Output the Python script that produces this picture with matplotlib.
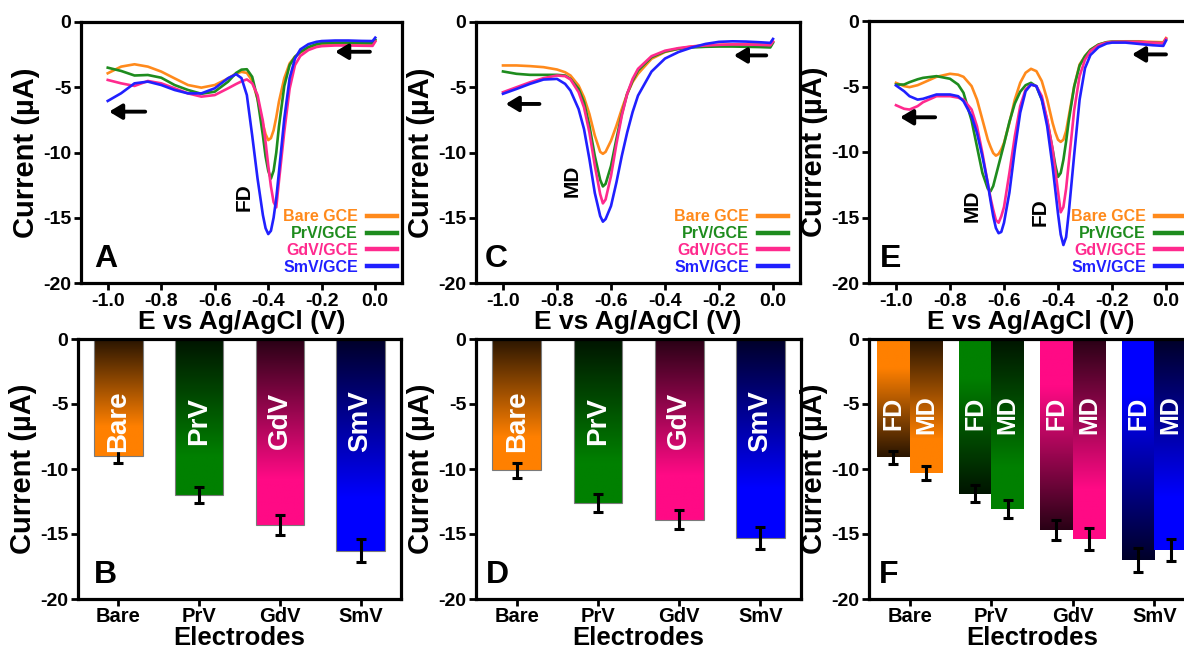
import numpy as np
import matplotlib
matplotlib.use("Agg")
import matplotlib.pyplot as plt
from matplotlib.colors import to_rgb

plt.rcParams["font.family"] = ["Liberation Sans", "DejaVu Sans"]
plt.rcParams["font.weight"] = "bold"
plt.rcParams["axes.labelweight"] = "bold"
plt.rcParams["axes.unicode_minus"] = False

# ---------------------------------------------------------------- data
series_labels = ["Bare GCE", "PrV/GCE", "GdV/GCE", "SmV/GCE"]
electrodes = ["Bare", "PrV", "GdV", "SmV"]
line_colors = ["#FF8A1C", "#1E8C1E", "#FF2A8E", "#2020FF"]
bar_colors = ["#FF8000", "#008000", "#FF0A85", "#0000FF"]

# DPV of FD alone (panel A)
E_A = [-1.0, -0.95, -0.90, -0.85, -0.80, -0.75, -0.70, -0.65, -0.60, -0.55,
       -0.52, -0.50, -0.48, -0.46, -0.44, -0.42, -0.41, -0.40, -0.39, -0.38,
       -0.37, -0.36, -0.34, -0.32, -0.30, -0.28, -0.25, -0.22, -0.20, -0.15,
       -0.10, -0.05, -0.01, 0.0]
I_A_bare = [-3.93, -3.42, -3.24, -3.42, -3.80, -4.32, -4.83, -5.03, -4.83, -4.32,
            -3.95, -3.82, -3.90, -4.50, -5.90, -7.80, -8.60, -9.05, -8.90, -8.30,
            -7.30, -6.10, -4.30, -3.17, -2.66, -2.35, -2.00, -1.82, -1.75, -1.70,
            -1.68, -1.70, -1.72, -1.45]
I_A_prv = [-3.50, -3.75, -4.10, -4.06, -4.27, -4.83, -5.21, -5.50, -5.34, -4.57,
           -3.90, -3.65, -3.62, -4.20, -5.90, -8.70, -10.30, -11.40, -12.00, -11.40,
           -10.00, -8.00, -4.90, -3.30, -2.66, -2.30, -1.92, -1.70, -1.62, -1.58,
           -1.58, -1.60, -1.62, -1.35]
I_A_gdv = [-4.44, -4.70, -4.90, -4.52, -4.70, -5.08, -5.47, -5.72, -5.60, -5.08,
           -4.75, -4.55, -4.40, -4.70, -5.60, -7.60, -9.20, -11.00, -12.60, -13.80,
           -14.20, -12.20, -8.40, -5.10, -3.30, -2.60, -2.15, -1.92, -1.85, -1.80,
           -1.80, -1.82, -1.83, -1.50]
I_A_smv = [-6.05, -5.46, -4.70, -4.57, -4.83, -5.21, -5.47, -5.47, -5.08, -4.30,
           -4.00, -4.30, -5.60, -8.70, -12.00, -14.80, -15.80, -16.25, -16.00, -15.00,
           -13.50, -11.50, -7.40, -4.30, -2.80, -2.10, -1.70, -1.52, -1.46, -1.42,
           -1.42, -1.45, -1.46, -1.20]

# DPV of MD alone (panel C)
E_C = [-1.0, -0.95, -0.90, -0.85, -0.80, -0.77, -0.75, -0.72, -0.70, -0.68,
       -0.66, -0.64, -0.63, -0.62, -0.60, -0.58, -0.56, -0.54, -0.52, -0.50,
       -0.45, -0.40, -0.35, -0.30, -0.25, -0.20, -0.15, -0.10, -0.05, -0.01, 0.0]
I_C_bare = [-3.33, -3.33, -3.38, -3.46, -3.64, -3.85, -4.10, -4.87, -5.77, -7.05,
            -8.70, -9.95, -10.10, -9.95, -9.10, -7.95, -6.67, -5.50, -4.60, -3.97,
            -2.82, -2.30, -2.05, -1.87, -1.80, -1.75, -1.72, -1.72, -1.72, -1.75, -1.50]
I_C_prv = [-3.79, -3.97, -4.05, -4.05, -4.05, -4.10, -4.36, -5.13, -6.15, -7.95,
           -10.26, -12.10, -12.60, -12.40, -11.03, -8.97, -7.05, -5.50, -4.50, -3.72,
           -2.70, -2.26, -2.05, -1.95, -1.90, -1.88, -1.88, -1.90, -1.92, -1.95, -1.60]
I_C_gdv = [-5.38, -5.00, -4.62, -4.30, -4.10, -4.15, -4.40, -5.38, -6.54, -8.46,
           -11.00, -13.20, -13.90, -13.60, -11.80, -9.36, -7.18, -5.50, -4.36, -3.59,
           -2.62, -2.20, -2.00, -1.87, -1.80, -1.75, -1.72, -1.72, -1.75, -1.78, -1.50]
I_C_smv = [-5.50, -5.13, -4.74, -4.41, -4.36, -4.74, -5.26, -6.67, -8.20, -10.50,
           -13.10, -14.87, -15.30, -15.10, -14.10, -12.30, -10.26, -8.46, -6.90, -5.64,
           -3.80, -2.80, -2.30, -1.95, -1.68, -1.52, -1.48, -1.50, -1.55, -1.60, -1.30]

# DPV of the FD + MD mixture (panel E)
E_E = [-1.0, -0.97, -0.95, -0.92, -0.90, -0.85, -0.80, -0.77, -0.75, -0.72,
       -0.70, -0.68, -0.66, -0.65, -0.64, -0.63, -0.62, -0.61, -0.60, -0.58,
       -0.56, -0.54, -0.52, -0.50, -0.48, -0.46, -0.44, -0.42, -0.41, -0.40,
       -0.39, -0.38, -0.37, -0.36, -0.34, -0.32, -0.30, -0.28, -0.25, -0.22,
       -0.20, -0.15, -0.10, -0.05, -0.01, 0.0]
I_E_bare = [-4.72, -4.97, -5.05, -4.90, -4.72, -4.26, -4.03, -4.10, -4.26, -4.97,
            -6.00, -7.53, -9.06, -9.60, -10.08, -10.28, -10.15, -9.80, -9.31, -7.78,
            -6.00, -4.72, -3.95, -3.65, -3.83, -4.59, -6.00, -7.78, -8.50, -9.06,
            -9.23, -9.06, -8.40, -7.27, -4.97, -3.32, -2.68, -2.20, -1.80, -1.62,
            -1.58, -1.55, -1.55, -1.60, -1.62, -1.30]
I_E_prv = [-4.85, -4.85, -4.67, -4.45, -4.34, -4.21, -4.41, -4.85, -5.48, -7.60,
           -9.60, -11.60, -12.80, -13.00, -12.60, -11.80, -11.00, -10.20, -9.40, -7.70,
           -6.30, -5.40, -4.90, -4.72, -5.00, -6.00, -7.60, -9.80, -11.00, -11.90,
           -11.60, -10.60, -9.20, -7.60, -5.00, -3.40, -2.68, -2.20, -1.80, -1.62,
           -1.58, -1.58, -1.60, -1.65, -1.70, -1.40]
I_E_gdv = [-6.43, -6.70, -6.76, -6.50, -6.20, -5.74, -5.74, -5.85, -6.00, -6.76,
           -8.04, -10.08, -12.40, -13.50, -14.40, -15.20, -15.40, -14.90, -14.20, -11.60,
           -8.80, -6.50, -5.23, -4.85, -4.97, -5.74, -7.53, -9.80, -11.40, -13.00,
           -14.60, -14.20, -12.80, -10.80, -6.80, -4.20, -2.95, -2.30, -1.85, -1.65,
           -1.60, -1.58, -1.60, -1.65, -1.70, -1.35]
I_E_smv = [-4.92, -5.36, -5.74, -6.00, -5.94, -5.61, -5.61, -5.74, -6.12, -7.27,
           -8.55, -10.33, -12.40, -13.70, -14.90, -15.80, -16.20, -16.10, -15.40, -13.10,
           -9.82, -7.00, -5.36, -4.85, -4.97, -6.00, -8.04, -11.10, -12.90, -14.70,
           -16.30, -17.10, -16.50, -14.60, -10.20, -6.00, -3.60, -2.60, -2.00, -1.72,
           -1.65, -1.65, -1.75, -1.85, -1.90, -1.50]

# peak currents (mean, error)
B_peak = [-9.0, -12.0, -14.3, -16.3]
B_err = [0.5, 0.62, 0.77, 0.88]
D_peak = [-10.1, -12.6, -13.9, -15.3]
D_err = [0.58, 0.7, 0.75, 0.82]
F_peak_fd = [-9.1, -11.9, -14.7, -17.0]
F_err_fd = [0.5, 0.65, 0.75, 0.9]
F_peak_md = [-10.3, -13.1, -15.4, -16.2]
F_err_md = [0.55, 0.7, 0.85, 0.85]

# ---------------------------------------------------------------- layout
W, H = 1184, 653
fig = plt.figure(figsize=(W / 100, H / 100), dpi=100)
fig.patch.set_facecolor("white")


def add_axes_px(l, r, t, b):
    return fig.add_axes([l / W, 1 - b / H, (r - l) / W, (b - t) / H])


def style(ax):
    for s in ax.spines.values():
        s.set_linewidth(2.3)
    ax.tick_params(direction="out", length=5, width=2, labelsize=14, pad=2,
                   top=False, right=False)
    ax.set_ylim(-20, 0)
    ax.set_yticks([0, -5, -10, -15, -20])
    ax.set_ylabel("Current (µA)", fontsize=21, labelpad=2)


def letter(ax, s, x, y=0.062):
    ax.text(x, y, s, transform=ax.transAxes, fontsize=23, fontweight="bold",
            ha="left", va="baseline")


def arrow(ax, x_tail, x_head, y):
    ax.annotate("", xy=(x_head, y), xytext=(x_tail, y),
                arrowprops=dict(arrowstyle="-|>,head_length=0.75,head_width=0.45",
                                color="k", lw=2.8, shrinkA=0, shrinkB=0))


def dpv_panel(ax, E, curves, tag, tag_x, arrows, notes, leg_right_px):
    for I, c, lab in zip(curves, line_colors, series_labels):
        ax.plot(E, I, color=c, lw=1.9, label=lab, solid_joinstyle="round")
    style(ax)
    ax.set_xlim(-1.1, 0.1)
    ax.set_xticks([-1.0, -0.8, -0.6, -0.4, -0.2, 0.0])
    ax.set_xticklabels(["-1.0", "-0.8", "-0.6", "-0.4", "-0.2", "0.0"])
    ax.set_xlabel("E vs Ag/AgCl (V)", fontsize=19, labelpad=0)
    for (xt, xh, y) in arrows:
        arrow(ax, xt, xh, y)
    for (s, x, y) in notes:
        ax.text(x, y, s, rotation=90, fontsize=15, fontweight="bold",
                ha="center", va="center")
    leg = ax.legend(loc="lower right", bbox_to_anchor=(leg_right_px / W, (H - 275) / H),
                    bbox_transform=fig.transFigure, frameon=False, markerfirst=False,
                    labelcolor="linecolor", fontsize=11.5, handlelength=1.85,
                    handletextpad=0.6, labelspacing=0.12, borderpad=0, borderaxespad=0)
    for h in leg.legend_handles:
        h.set_linewidth(3.2)
    letter(ax, tag, tag_x)


def gradient_bar(ax, patch, color, dark_top=True):
    x0, w = patch.get_x(), patch.get_width()
    y0, h = patch.get_y(), patch.get_height()
    t = np.linspace(0, 1, 300)          # 0 = top of bar, 1 = bottom
    frac = np.clip((t if dark_top else 1 - t) / 0.75, 0, 1)
    c = np.array(to_rgb(color))
    dark = c * 0.16
    img = (dark + (c - dark) * frac[:, None])[:, None, :]
    im = ax.imshow(img, extent=[x0, x0 + w, y0 + h, y0], origin="upper",
                   aspect="auto", interpolation="bilinear", zorder=1)
    im.set_clip_path(patch)


def bar_axes_common(ax, tag, tag_x):
    style(ax)
    ax.tick_params(axis="x", pad=1)
    ax.set_xlim(-0.5, 3.5)
    ax.set_xticks(range(len(electrodes)))
    ax.set_xticklabels(electrodes, fontsize=14.5)
    ax.set_xlabel("Electrodes", fontsize=18.5, labelpad=0)
    letter(ax, tag, tag_x)


def single_bar_panel(ax, vals, errs, tag, tag_x):
    x = np.arange(len(electrodes))
    bars = ax.bar(x, vals, width=0.6, facecolor="none", edgecolor="#7a7a7a",
                  lw=0.8, zorder=2)
    for p, c in zip(bars, bar_colors):
        gradient_bar(ax, p, c, dark_top=True)
    ax.errorbar(x, vals, yerr=errs, fmt="none", ecolor="k", elinewidth=2.2,
                capsize=3.5, capthick=2.2, zorder=3)
    for xi, name in zip(x, electrodes):
        ax.text(xi, -6.3, name, rotation=90, color="white", fontsize=20,
                fontweight="bold", ha="center", va="center", zorder=4)
    bar_axes_common(ax, tag, tag_x)


def grouped_bar_panel(ax, fd, fd_err, md, md_err, tag, tag_x):
    x = np.arange(len(electrodes))
    w = 0.4
    b_fd = ax.bar(x - w / 2, fd, width=w, facecolor="none", edgecolor="none", zorder=2)
    b_md = ax.bar(x + w / 2, md, width=w, facecolor="none", edgecolor="none", zorder=2)
    for p, c in zip(b_fd, bar_colors):
        gradient_bar(ax, p, c, dark_top=False)
    for p, c in zip(b_md, bar_colors):
        gradient_bar(ax, p, c, dark_top=True)
    ax.errorbar(x - w / 2, fd, yerr=fd_err, fmt="none", ecolor="k", elinewidth=2.2,
                capsize=3.5, capthick=2.2, zorder=3)
    ax.errorbar(x + w / 2, md, yerr=md_err, fmt="none", ecolor="k", elinewidth=2.2,
                capsize=3.5, capthick=2.2, zorder=3)
    for xi in x:
        ax.text(xi - w / 2, -5.7, "FD", rotation=90, color="white", fontsize=18,
                fontweight="bold", ha="center", va="center", zorder=4)
        ax.text(xi + w / 2, -5.8, "MD", rotation=90, color="white", fontsize=18,
                fontweight="bold", ha="center", va="center", zorder=4)
    bar_axes_common(ax, tag, tag_x)


axA = add_axes_px(81, 402, 22, 283)
axC = add_axes_px(476, 800, 22, 283)
axE = add_axes_px(869, 1193, 21, 283)
axB = add_axes_px(78, 401, 339, 599)
axD = add_axes_px(476, 801, 339, 599)
axF = add_axes_px(869, 1195, 339, 599)

dpv_panel(axA, E_A, [I_A_bare, I_A_prv, I_A_gdv, I_A_smv], "A", 0.04,
          arrows=[(-0.02, -0.15, -2.28), (-0.86, -0.995, -6.87)],
          notes=[("FD", -0.49, -13.4)], leg_right_px=397)
dpv_panel(axC, E_C, [I_C_bare, I_C_prv, I_C_gdv, I_C_smv], "C", 0.028,
          arrows=[(-0.025, -0.145, -2.56), (-0.865, -0.99, -6.28)],
          notes=[("MD", -0.744, -12.2)], leg_right_px=788)
dpv_panel(axE, E_E, [I_E_bare, I_E_prv, I_E_gdv, I_E_smv], "E", 0.034,
          arrows=[(0.0, -0.126, -2.55), (-0.855, -0.985, -7.35)],
          notes=[("MD", -0.719, -14.1), ("FD", -0.466, -14.6)], leg_right_px=1185)

single_bar_panel(axB, B_peak, B_err, "B", 0.05)
single_bar_panel(axD, D_peak, D_err, "D", 0.03)
grouped_bar_panel(axF, F_peak_fd, F_err_fd, F_peak_md, F_err_md, "F", 0.031)

fig.savefig("out.png", dpi=100, facecolor="white")
